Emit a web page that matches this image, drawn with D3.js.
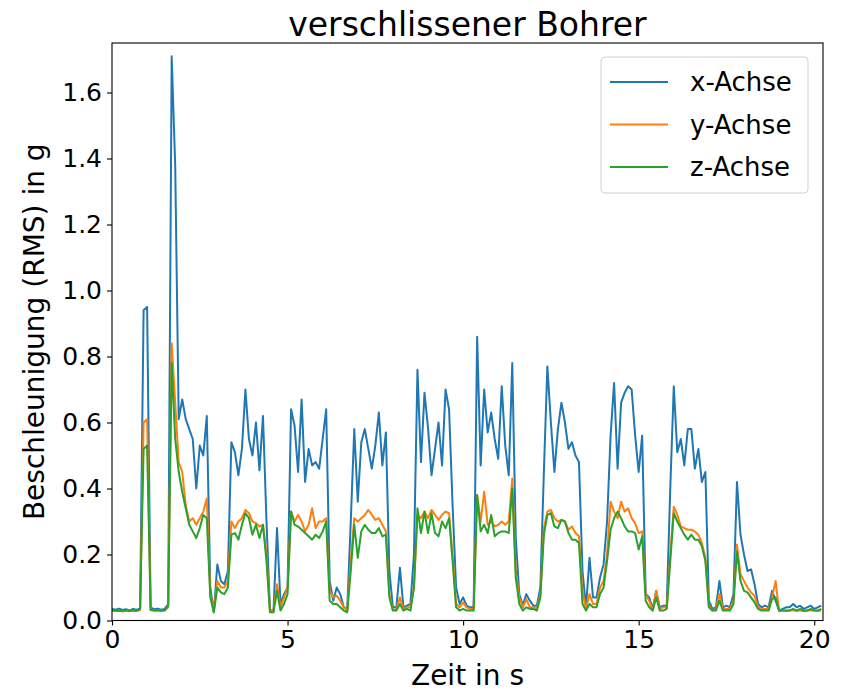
<!DOCTYPE html>
<html>
<head>
<meta charset="utf-8">
<script src="https://cdn.jsdelivr.net/npm/d3@7"></script>
<style>
  body { margin: 0; background: #fff; }
  svg { display: block; font-family: "DejaVu Sans", sans-serif; }
</style>
</head>
<body>
<div id="container"></div>
<script>
// sampled every 0.1 s, starting at 0 s
const dt = 0.1

const xAchse = [
  .035,.033,.036,.032,.034,.030,.035,.033,.036,.94,
  .95,.040,.034,.036,.033,.035,.05,1.71,1.38,.61,
  .67,.61,.58,.55,.40,.53,.50,.62,.10,.025,
  .17,.12,.11,.15,.54,.51,.44,.52,.70,.55,
  .50,.60,.455,.62,.30,.03,.03,.28,.05,.08,
  .10,.64,.59,.45,.67,.42,.52,.47,.48,.46,
  .55,.64,.12,.06,.10,.08,.04,.035,.30,.58,
  .36,.54,.58,.52,.46,.53,.63,.47,.57,.15,
  .04,.04,.16,.04,.045,.05,.20,.76,.48,.69,
  .585,.44,.52,.60,.47,.70,.64,.35,.10,.05,
  .07,.045,.04,.04,.86,.47,.70,.57,.63,.55,
  .49,.71,.53,.44,.78,.25,.08,.045,.08,.06,
  .045,.045,.10,.45,.77,.60,.45,.58,.66,.60,
  .52,.54,.50,.48,.15,.04,.19,.07,.07,.13,
  .17,.30,.56,.72,.46,.66,.69,.71,.70,.56,
  .45,.56,.08,.07,.035,.09,.04,.045,.045,.40,
  .71,.51,.55,.47,.58,.58,.46,.52,.42,.45,
  .06,.035,.04,.12,.04,.045,.04,.08,.42,.26,
  .20,.15,.155,.11,.05,.04,.045,.04,.09,.06,
  .03,.035,.04,.04,.05,.04,.045,.035,.04,.045,
  .035,.04,.045
]

const yAchse = [
  .030,.028,.030,.027,.030,.028,.030,.029,.032,.60,
  .61,.034,.030,.031,.029,.030,.04,.84,.66,.48,
  .45,.35,.30,.31,.29,.31,.33,.37,.08,.030,
  .12,.10,.10,.12,.30,.28,.30,.31,.335,.325,
  .30,.295,.285,.29,.20,.03,.03,.11,.04,.07,
  .10,.33,.30,.32,.30,.27,.29,.34,.28,.30,
  .30,.31,.09,.07,.075,.06,.04,.03,.18,.31,
  .30,.31,.32,.335,.32,.305,.31,.29,.27,.08,
  .03,.035,.07,.035,.04,.04,.10,.32,.31,.33,
  .31,.335,.32,.305,.32,.33,.325,.20,.05,.04,
  .055,.04,.035,.035,.38,.30,.39,.29,.30,.285,
  .29,.30,.29,.30,.43,.15,.07,.04,.065,.04,
  .04,.035,.08,.28,.33,.335,.31,.30,.305,.30,
  .275,.285,.265,.255,.09,.035,.08,.05,.05,.10,
  .12,.20,.36,.33,.31,.36,.33,.34,.31,.295,
  .265,.27,.08,.06,.03,.09,.035,.04,.04,.20,
  .345,.32,.285,.28,.275,.275,.27,.26,.235,.19,
  .045,.03,.035,.08,.035,.035,.035,.06,.23,.14,
  .12,.10,.085,.075,.04,.035,.035,.035,.07,.12,
  .028,.031,.029,.030,.032,.029,.031,.028,.030,.031,
  .030,.029,.031
]

const zAchse = [
  .030,.031,.029,.030,.031,.029,.031,.030,.034,.52,
  .53,.032,.030,.031,.030,.031,.045,.78,.55,.45,
  .39,.34,.29,.27,.25,.28,.32,.31,.07,.025,
  .10,.085,.08,.10,.26,.265,.245,.29,.325,.31,
  .26,.29,.25,.29,.18,.025,.025,.09,.03,.05,
  .08,.33,.29,.285,.275,.265,.255,.245,.26,.25,
  .27,.30,.06,.05,.05,.04,.03,.025,.15,.29,
  .19,.27,.29,.275,.265,.265,.28,.255,.26,.07,
  .03,.03,.05,.03,.035,.03,.10,.34,.265,.33,
  .265,.325,.265,.255,.30,.28,.31,.18,.04,.03,
  .035,.03,.03,.03,.38,.27,.29,.265,.32,.255,
  .265,.27,.27,.265,.40,.13,.05,.03,.04,.035,
  .035,.03,.07,.26,.32,.325,.285,.28,.305,.30,
  .265,.245,.245,.235,.05,.03,.05,.04,.04,.08,
  .10,.18,.275,.31,.33,.31,.285,.27,.27,.265,
  .215,.255,.06,.04,.03,.07,.03,.03,.035,.18,
  .325,.30,.28,.26,.245,.26,.245,.245,.225,.18,
  .04,.03,.03,.06,.03,.03,.03,.05,.21,.12,
  .09,.085,.07,.055,.035,.03,.03,.03,.065,.07,
  .03,.03,.03,.03,.035,.03,.035,.03,.03,.035,
  .03,.03,.035
]

const seriesNames = ["x-Achse", "y-Achse", "z-Achse"]
const seriesColors = ["#1f77b4", "#ff7f0e", "#2ca02c"]
const xTicks = [0, 5, 10, 15, 20]
const yTicks = [0, 0.2, 0.4, 0.6, 0.8, 1.0, 1.2, 1.4, 1.6]

const width = 844
const height = 692
const margin = {top: 43, right: 21, bottom: 71.5, left: 112}

const svg = d3.create("svg")
    .attr("width", width)
    .attr("height", height)

const x = d3.scaleLinear()
    .domain([0, 20.25])
    .range([margin.left, width - margin.right])

const y = d3.scaleLinear()
    .domain([0, 1.75])
    .range([height - margin.bottom, margin.top])

svg.append("clipPath")
    .attr("id", "plot-clip")
  .append("rect")
    .attr("x", margin.left)
    .attr("y", margin.top)
    .attr("width", width - margin.left - margin.right)
    .attr("height", height - margin.top - margin.bottom)

const line = d3.line()
    .x((d, i) => x(i * dt))
    .y(d => y(d))

const lines = svg.append("g")
    .attr("clip-path", "url(#plot-clip)")

lines.selectAll("path")
    .data([xAchse, yAchse, zAchse])
    .join("path")
    .attr("fill", "none")
    .attr("stroke", (d, i) => seriesColors[i])
    .attr("stroke-width", 2)
    .attr("stroke-linejoin", "round")
    .attr("d", line)

// axes
const xAxis = svg.append("g")
    .attr("transform", `translate(0,${height - margin.bottom})`)
    .call(d3.axisBottom(x).tickValues(xTicks).tickFormat(d3.format("d")).tickSize(5).tickPadding(5))

const yAxis = svg.append("g")
    .attr("transform", `translate(${margin.left},0)`)
    .call(d3.axisLeft(y).tickValues(yTicks).tickFormat(d3.format(".1f")).tickSize(5).tickPadding(5))

for (const ax of [xAxis, yAxis]) {
    ax.select(".domain").remove()
    ax.selectAll(".tick line").attr("stroke", "#000").attr("stroke-width", 1.1)
    ax.selectAll(".tick text")
        .attr("fill", "#000")
        .style("font-size", "25px")
        .style("font-family", "DejaVu Sans")
}

// frame
svg.append("rect")
    .attr("x", margin.left)
    .attr("y", margin.top)
    .attr("width", width - margin.left - margin.right)
    .attr("height", height - margin.top - margin.bottom)
    .attr("fill", "none")
    .attr("stroke", "#000")
    .attr("stroke-width", 1.1)

// title and labels
svg.append("text")
    .attr("x", (margin.left + width - margin.right) / 2)
    .attr("y", 36)
    .attr("text-anchor", "middle")
    .style("font-size", "33px")
    .text("verschlissener Bohrer")

svg.append("text")
    .attr("x", (margin.left + width - margin.right) / 2)
    .attr("y", 685)
    .attr("text-anchor", "middle")
    .style("font-size", "28px")
    .text("Zeit in s")

svg.append("text")
    .attr("transform", `translate(44,${(margin.top + height - margin.bottom) / 2}) rotate(-90)`)
    .attr("text-anchor", "middle")
    .style("font-size", "28px")
    .text("Beschleunigung (RMS) in g")

// legend
const legend = svg.append("g")
    .attr("transform", "translate(601,57)")

legend.append("rect")
    .attr("width", 207)
    .attr("height", 136)
    .attr("rx", 4)
    .attr("fill", "#fff")
    .attr("fill-opacity", 0.8)
    .attr("stroke", "#d0d0d0")
    .attr("stroke-width", 1)

const items = legend.selectAll("g.item")
    .data(seriesNames)
    .join("g")
    .attr("class", "item")
    .attr("transform", (d, i) => `translate(0,${25 + i * 42.5})`)

items.append("line")
    .attr("x1", 9)
    .attr("x2", 67)
    .attr("stroke", (d, i) => seriesColors[i])
    .attr("stroke-width", 2)

items.append("text")
    .attr("x", 89)
    .attr("y", 9)
    .style("font-size", "26px")
    .text(d => d)

document.querySelector("#container").appendChild(svg.node())
</script>
</body>
</html>
